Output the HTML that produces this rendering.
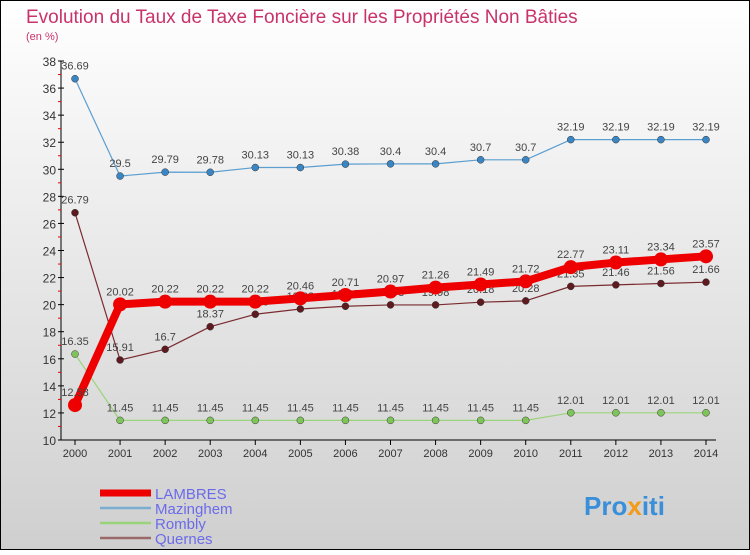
<!DOCTYPE html>
<html><head><meta charset="utf-8"><style>
html,body{margin:0;padding:0;}
body{width:750px;height:550px;overflow:hidden;font-family:"Liberation Sans",sans-serif;}
</style></head><body>
<svg id="chart" width="750" height="550" xmlns="http://www.w3.org/2000/svg">
<defs><linearGradient id="bg" x1="0" y1="0" x2="0" y2="1"><stop offset="0" stop-color="#ffffff"/><stop offset="1" stop-color="#cfcfcf"/></linearGradient></defs>
<rect x="0.5" y="0.5" width="749" height="549" fill="url(#bg)" stroke="#000" stroke-width="1"/>
<text x="26" y="23" font-size="19" fill="#c8336a">Evolution du Taux de Taxe Foncière sur les Propriétés Non Bâties</text>
<text x="26" y="40" font-size="11" fill="#c8336a">(en %)</text>
<g id="axes"></g><g id="series"></g><g id="legend"></g>
<text x="584" y="515" font-size="26" font-weight="bold" fill="#3a8fd8">Pro<tspan fill="#f29a1a">x</tspan>iti</text>
</svg>
<script>
const years=[2000,2001,2002,2003,2004,2005,2006,2007,2008,2009,2010,2011,2012,2013,2014];
const yTicks=[10,12,14,16,18,20,22,24,26,28,30,32,34,36,38];
const lambres=[12.58,20.02,20.22,20.22,20.22,20.46,20.71,20.97,21.26,21.49,21.72,22.77,23.11,23.34,23.57];
const mazinghem=[36.69,29.5,29.79,29.78,30.13,30.13,30.38,30.4,30.4,30.7,30.7,32.19,32.19,32.19,32.19];
const rombly=[16.35,11.45,11.45,11.45,11.45,11.45,11.45,11.45,11.45,11.45,11.45,12.01,12.01,12.01,12.01];
const quernes=[26.79,15.91,16.7,18.37,19.29,19.68,19.88,19.98,19.98,20.18,20.28,21.35,21.46,21.56,21.66];
const NS='http://www.w3.org/2000/svg';
const X0=75,X1=706,Y0=440,Y1=61,VMIN=10,VMAX=38;
function xs(i){return X0+(X1-X0)*i/(years.length-1);}
function ys(v){return Y0-(v-VMIN)*(Y0-Y1)/(VMAX-VMIN);}
function mk(tag,attrs,parent){const e=document.createElementNS(NS,tag);for(const k in attrs)e.setAttribute(k,attrs[k]);parent.appendChild(e);return e;}
const axes=document.getElementById('axes');
const ya=mk('line',{x1:61,y1:Y1,x2:61,y2:Y0,stroke:'#000'},axes);


yTicks.forEach(v=>{
  mk('line',{x1:58,x2:64,y1:ys(v),y2:ys(v),stroke:'#000'},axes);
  if(v<VMAX) mk('line',{x1:58,x2:61,y1:ys(v+1),y2:ys(v+1),stroke:'#e00'},axes);
  const t=mk('text',{x:56,y:ys(v)+5,'text-anchor':'end','font-size':12,fill:'#333'},axes);
  t.textContent=v;
  
  
});
const xa=mk('line',{x1:61,y1:Y0,x2:X1+10,y2:Y0,stroke:'#000'},axes);


years.forEach((y,i)=>{
  mk('line',{x1:xs(i),x2:xs(i),y1:Y0,y2:Y0+5,stroke:'#000'},axes);
  const t=mk('text',{x:xs(i),y:Y0+17,'text-anchor':'middle','font-size':11,fill:'#333'},axes);
  t.textContent=y;
  
  
});
const series=[
 {name:'mazinghem',data:mazinghem,color:'#5b9ed0',dot:'#3a86c4',w:1.2,r:3.5},
 {name:'rombly',data:rombly,color:'#9ad47a',dot:'#7fc45a',w:1.2,r:3.5},
 {name:'quernes',data:quernes,color:'#7a2b30',dot:'#5e1a1e',w:1.2,r:3.5},
 {name:'lambres',data:lambres,color:'#ee0000',dot:'#ee0000',w:8,r:7}
];
const sg=document.getElementById('series');
series.forEach(s=>{
  const g=mk('g',{},sg);
  
  
  mk('polyline',{points:s.data.map((v,i)=>xs(i)+','+ys(v)).join(' '),fill:'none',stroke:s.color,'stroke-width':s.w,'stroke-linejoin':'round'},g);
  s.data.forEach((v,i)=>{
    const c=mk('circle',{cx:xs(i),cy:ys(v),r:s.r,fill:s.dot,stroke:s.w>2?'none':'#333','stroke-width':0.5},g);
    
    
    const t=mk('text',{x:xs(i),y:ys(v)-9,'text-anchor':'middle','font-size':11,fill:'#444'},g);
    t.textContent=v;
    
    
  });
});
const lg=document.getElementById('legend');
const lnames=['LAMBRES','Mazinghem','Rombly','Quernes'];
const lcols=['#ee0000','#7aaed0','#9ad47a','#9a6a6a'];
const lw=[7,2.5,2.5,2.5];
lnames.forEach((n,i)=>{
  const y=493+i*15;
  const g=mk('g',{},lg);
  
  
  mk('line',{x1:100,x2:151,y1:y,y2:y,stroke:lcols[i],'stroke-width':lw[i]},g);
  const t=mk('text',{x:155,y:y+6,'font-size':15,fill:'#6b6bea'},g);
  t.textContent=n;
});
</script>
</body></html>
